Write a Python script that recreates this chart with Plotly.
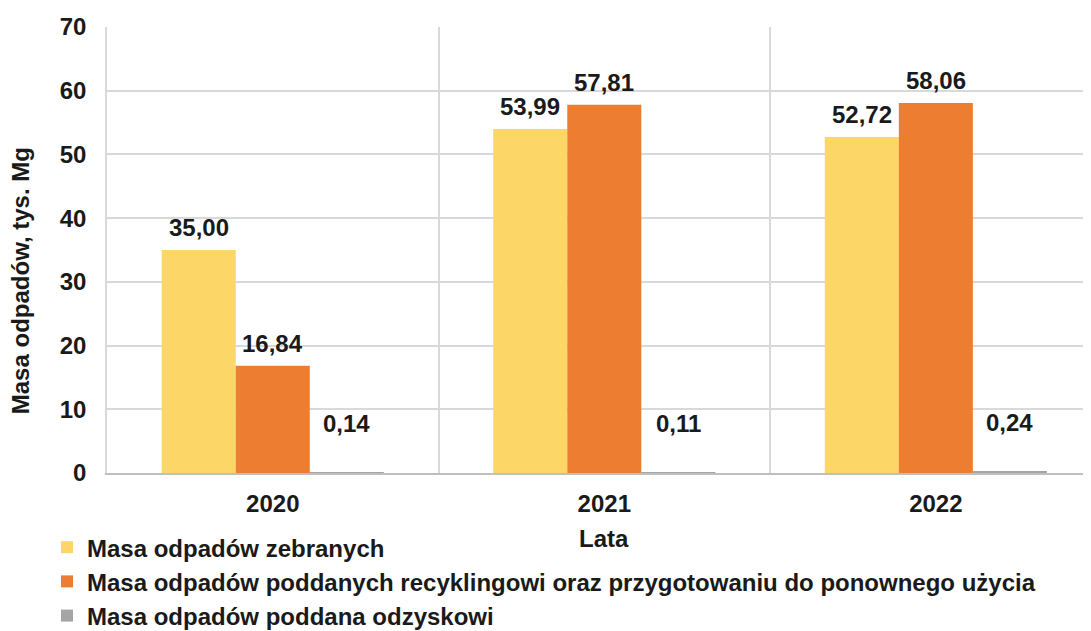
import plotly.graph_objects as go

years = ["2020", "2021", "2022"]
series_names = [
    "Masa odpadów zebranych",
    "Masa odpadów poddanych recyklingowi oraz przygotowaniu do ponownego użycia",
    "Masa odpadów poddana odzyskowi",
]
zebrane = [35.00, 53.99, 52.72]
recykling = [16.84, 57.81, 58.06]
odzysk = [0.14, 0.11, 0.24]
colors = ["#FCD667", "#ED7D31", "#A5A5A5"]
y_title = "Masa odpadów, tys. Mg"
x_title = "Lata"

FONT = "Liberation Sans, Arial, sans-serif"
TXT = "#1a1a1a"
FS = 24

def fmt(v):
    return f"{v:.2f}".replace(".", ",")

fig = go.Figure()
all_series = [zebrane, recykling, odzysk]
for k, (name, vals, col) in enumerate(zip(series_names, all_series, colors)):
    fig.add_trace(go.Bar(
        x=years, y=vals, name=name, marker_color=col,
        marker_line_width=0, legendgroup=f"g{k}",
    ))

# data labels via annotations (x given as category index)
bar_w = 74
offsets = [-bar_w, 0, bar_w]
for i, vals in enumerate(all_series):
    for j, v in enumerate(vals):
        fig.add_annotation(
            x=j, y=v, xref="x", yref="y", text=f"<b>{fmt(v)}</b>",
            showarrow=False, xshift=offsets[i], yanchor="bottom",
            yshift=(33 if i == 2 else 7),
            font=dict(family=FONT, size=FS, color=TXT),
        )

# y-axis title as rotated annotation
fig.add_annotation(
    x=-0.0885, y=0.43, xref="paper", yref="paper", text=f"<b>{y_title}</b>",
    textangle=-90, showarrow=False, xanchor="center", yanchor="middle",
    font=dict(family=FONT, size=FS, color=TXT),
)
# x-axis title as annotation (centred on the full category span)
fig.add_annotation(
    x=1.0, y=0, xref="x", yref="paper", text=f"<b>{x_title}</b>",
    showarrow=False, xanchor="center", yanchor="top", yshift=-50,
    font=dict(family=FONT, size=FS, color=TXT),
)

W, H = 1083, 623
fig.update_layout(
    width=W, height=H,
    margin=dict(l=99, r=1, t=19, b=158, autoexpand=False),
    paper_bgcolor="white", plot_bgcolor="white",
    barmode="group", bargap=0.33, bargroupgap=0,
    font=dict(family=FONT, color=TXT),
    showlegend=True,
    legend=dict(
        orientation="v", xref="container", yref="container",
        x=0.036, y=0.17, xanchor="left", yanchor="top",
        font=dict(family=FONT, size=FS, color=TXT, weight="bold"),
        traceorder="grouped", tracegroupgap=0, itemwidth=30,
        bgcolor="rgba(0,0,0,0)",
    ),
)
fig.update_xaxes(
    type="category", tickson="boundaries", range=[-0.5, 2.465],
    showgrid=True, gridcolor="#D9D9D9", gridwidth=1.5,
    showline=True, linecolor="#BFBFBF", linewidth=2,
    ticks="", ticklen=0, ticklabelstandoff=8,
    tickfont=dict(family=FONT, size=FS, color=TXT, weight="bold"),
)
fig.update_yaxes(
    range=[0, 70], dtick=10, tick0=0,
    showgrid=True, gridcolor="#D9D9D9", gridwidth=1.5,
    showline=True, linecolor="#D9D9D9", linewidth=1.5,
    zeroline=False, ticks="", ticklabelstandoff=14,
    tickfont=dict(family=FONT, size=FS, color=TXT, weight="bold"),
)

fig.write_html("out.html")
